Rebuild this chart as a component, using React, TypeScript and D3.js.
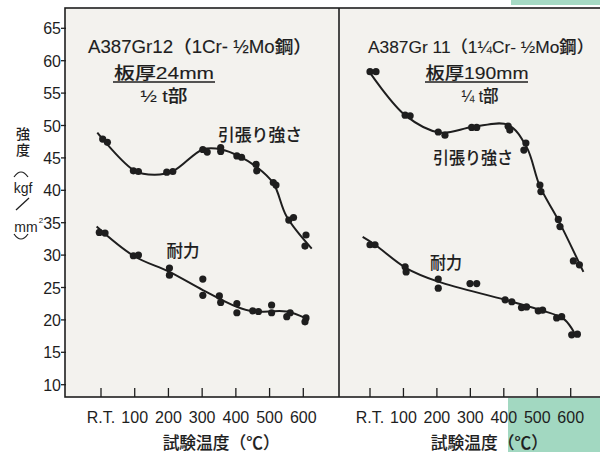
import React from 'react';
import * as d3 from 'd3';

// temperature axis (R.T. drawn at 0)
const TEMP_TICKS = [0, 100, 200, 300, 400, 500, 600];
const TEMP_LABELS = ['R.T.', '100', '200', '300', '400', '500', '600'];
const STRENGTH_TICKS = [10, 15, 20, 25, 30, 35, 40, 45, 50, 55, 60, 65];

// left panel: A387Gr12, plate 24mm
const leftTensileT = [5, 19, 96, 111, 195, 213, 302, 315, 355, 355, 403, 417, 460, 462, 511, 519, 557, 571, 608, 605];
const leftTensileV = [47.9, 47.4, 43.0, 42.9, 42.8, 42.9, 46.3, 45.9, 46.6, 46.0, 45.3, 45.1, 44.0, 43.0, 41.2, 40.8, 35.4, 35.8, 33.1, 31.4];
const leftTensileCurveT = [-11, 100, 160, 215, 302, 358, 412, 462, 511, 551, 625];
const leftTensileCurveV = [48.9, 43.0, 42.4, 43.0, 46.3, 46.3, 45.2, 43.6, 41.1, 35.9, 31.0];

const leftYieldT = [-5, 12, 96, 111, 203, 203, 302, 302, 351, 355, 403, 403, 450, 467, 506, 506, 551, 561, 608, 605];
const leftYieldV = [33.5, 33.4, 29.9, 30.0, 28.0, 26.9, 26.3, 23.8, 23.7, 22.7, 22.5, 21.1, 21.4, 21.3, 22.3, 21.1, 20.5, 21.1, 20.3, 19.7];
const leftYieldCurveT = [-13, 96, 203, 302, 403, 452, 551, 605];
const leftYieldCurveV = [34.4, 29.9, 27.4, 24.6, 22.0, 21.3, 21.3, 20.3];

// right panel: A387Gr11, plate 190mm
const rightTensileT = [0, 18, 105, 120, 204, 224, 304, 319, 413, 418, 466, 460, 508, 511, 563, 568, 608, 626];
const rightTensileV = [58.3, 58.3, 51.6, 51.5, 49.0, 48.5, 49.7, 49.7, 49.9, 49.3, 47.3, 46.2, 40.8, 39.8, 35.5, 34.4, 29.1, 28.5];
const rightTensileCurveT = [-5, 105, 209, 309, 413, 468, 508, 563, 638];
const rightTensileCurveV = [58.5, 51.6, 48.9, 49.8, 50.1, 46.7, 40.6, 35.4, 27.4];

const rightYieldT = [0, 15, 105, 108, 204, 204, 299, 319, 404, 424, 453, 468, 503, 516, 558, 573, 603, 620];
const rightYieldV = [31.6, 31.6, 28.2, 27.4, 26.3, 24.9, 25.6, 25.6, 23.1, 22.8, 21.9, 22.0, 21.4, 21.5, 20.3, 20.5, 17.7, 17.8];
const rightYieldCurveT = [-22, 15, 108, 204, 404, 518, 578, 603, 613];
const rightYieldCurveV = [32.8, 31.6, 28.0, 25.9, 23.1, 21.4, 20.2, 18.7, 17.7];

const W = 600;
const H = 452;
const TOP = 8;
const BOTTOM = 397;
const LEFT = 65;
const MID = 339;

const NUM_FONT = '"Liberation Sans", Arial, sans-serif';
const JP_FONT = '"Liberation Sans", "Noto Sans CJK JP", sans-serif';
const INK = '#1e1e1e';

const y = d3.scaleLinear().domain([10, 65]).range([384.7, 28.3]);
const xLeft = d3.scaleLinear().domain([0, 600]).range([101, 303.3]);
const xRight = d3.scaleLinear().domain([0, 600]).range([370, 570.7]);

type Scale = d3.ScaleLinear<number, number>;

const Series = ({ x, ts, vs, ct, cv }: { x: Scale; ts: number[]; vs: number[]; ct: number[]; cv: number[] }) => {
    const line = d3.line<number>()
        .x(i => x(ct[i]))
        .y(i => y(cv[i]))
        .curve(d3.curveCatmullRom.alpha(0.5));
    return (
        <g>
            <path d={line(ct.map((_, i) => i)) || ''} fill="none" stroke={INK} strokeWidth={2} />
            {ts.map((t, i) => (
                <circle key={i} cx={x(t)} cy={y(vs[i])} r={3.6} fill={INK} />
            ))}
        </g>
    );
};

// a label stretched to the width it has in the printed figure
const Label = ({ x, y, size, w, children }: { x: number; y: number; size: number; w: number; children: React.ReactNode }) => (
    <text x={x - w / 2} y={y} fontSize={size} textLength={w} lengthAdjust="spacingAndGlyphs"
        fontFamily={JP_FONT} fontWeight={500} fill={INK} stroke={INK} strokeWidth={0.12}>
        {children}
    </text>
);

const XAxis = ({ x }: { x: Scale }) => (
    <g>
        {TEMP_TICKS.map((t, i) => (
            <g key={t}>
                <line x1={x(t)} x2={x(t)} y1={BOTTOM - 9} y2={BOTTOM} stroke={INK} strokeWidth={1.3} />
                <text x={x(t)} y={423} textAnchor="middle" fontFamily={NUM_FONT} fontSize={16} fill={INK}>
                    {TEMP_LABELS[i]}
                </text>
            </g>
        ))}
        <Label x={(x(0) + x(600)) / 2 + 19} y={449} size={17} w={117}>試験温度（℃）</Label>
    </g>
);

const App = () => {
    return (
        <svg width={W} height={H} style={{ position: 'absolute', left: 0, top: 0 }}>
            <rect x={0} y={0} width={W} height={H} fill="#ffffff" />
            {/* green page edges */}
            <rect x={511} y={0} width={W - 511} height={5} fill="#a6dac4" />
            <rect x={508} y={398} width={W - 508} height={H - 398} fill="#a2d8c1" />

            {/* plot area */}
            <rect x={LEFT} y={TOP} width={W - LEFT + 10} height={BOTTOM - TOP} fill="#f3f2ee" stroke={INK} strokeWidth={1.6} />
            <line x1={MID} x2={MID} y1={TOP} y2={BOTTOM} stroke={INK} strokeWidth={1.6} />

            {/* y axis */}
            {STRENGTH_TICKS.map(v => (
                <g key={v}>
                    <line x1={LEFT - 4} x2={LEFT + 1} y1={y(v)} y2={y(v)} stroke={INK} strokeWidth={1.3} />
                    <text x={61} y={y(v) + 6} textAnchor="end" fontFamily={NUM_FONT} fontSize={16} fill={INK}>
                        {v}
                    </text>
                </g>
            ))}
            <g fontFamily={JP_FONT} fill={INK} textAnchor="middle">
                <text x={23} y={139} fontSize={14} fontWeight={500}>強</text>
                <text x={23} y={155} fontSize={14} fontWeight={500}>度</text>
                <path d="M14,177 Q21,167 28,177" fill="none" stroke={INK} strokeWidth={1.2} />
                <text x={23} y={193} fontSize={14}>kgf</text>
                <line x1={16} y1={210} x2={29} y2={198} stroke={INK} strokeWidth={1.3} />
                <text x={26} y={232} fontSize={14}>mm</text>
                <text x={41} y={223} fontSize={8}>2</text>
                <path d="M14,234 Q21,244 28,234" fill="none" stroke={INK} strokeWidth={1.2} />
            </g>

            {/* left panel */}
            <Series x={xLeft} ts={leftTensileT} vs={leftTensileV} ct={leftTensileCurveT} cv={leftTensileCurveV} />
            <Series x={xLeft} ts={leftYieldT} vs={leftYieldV} ct={leftYieldCurveT} cv={leftYieldCurveV} />
            <XAxis x={xLeft} />
            <Label x={200} y={53} size={17.5} w={224}>A387Gr12（1Cr- ½Mo鋼）</Label>
            <Label x={164} y={79} size={17} w={100}>板厚24mm</Label>
            <line x1={113} x2={215} y1={82} y2={82} stroke={INK} strokeWidth={1.4} />
            <Label x={164} y={102} size={17} w={47}>½ t部</Label>
            <Label x={260} y={141} size={17} w={84}>引張り強さ</Label>
            <Label x={183} y={257} size={17} w={33}>耐力</Label>

            {/* right panel */}
            <Series x={xRight} ts={rightTensileT} vs={rightTensileV} ct={rightTensileCurveT} cv={rightTensileCurveV} />
            <Series x={xRight} ts={rightYieldT} vs={rightYieldV} ct={rightYieldCurveT} cv={rightYieldCurveV} />
            <XAxis x={xRight} />
            <Label x={481} y={53} size={16.5} w={226}>A387Gr 11（1¼Cr- ½Mo鋼）</Label>
            <Label x={477} y={79} size={17} w={103}>板厚190mm</Label>
            <line x1={425} x2={528} y1={82} y2={82} stroke={INK} strokeWidth={1.4} />
            <Label x={480} y={102} size={17} w={37}>¼ t部</Label>
            <Label x={473} y={164} size={17} w={80}>引張り強さ</Label>
            <Label x={446} y={269} size={17} w={32}>耐力</Label>
        </svg>
    );
};

export default App;
